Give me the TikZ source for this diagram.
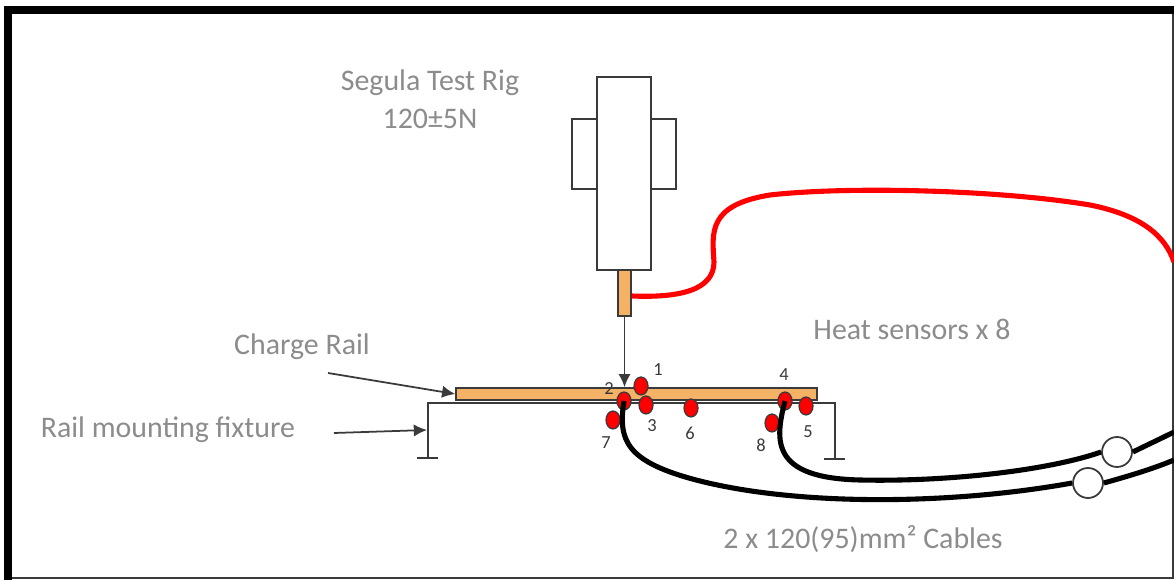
\documentclass[tikz,border=0pt]{standalone}
\usepackage{fontspec}
\setmainfont{Carlito}
\usetikzlibrary{
    arrows.meta,
    calc,
    positioning,
    shapes.geometric
}
\definecolor{railorange}{HTML}{F4B266}
\definecolor{labelgrey}{HTML}{8C8C8C}
\definecolor{linegrey}{HTML}{3A3A3A}
\tikzset{
    rigbox/.style={draw=linegrey, line width=1pt, fill=white, inner sep=0pt},
    orangebar/.style={draw=linegrey, line width=0.9pt, fill=railorange, inner sep=0pt},
    sensor/.style={ellipse, draw=linegrey, line width=0.7pt, fill=red, inner sep=0pt, minimum width=0.28cm, minimum height=0.36cm},
    gland/.style={circle, draw=linegrey, line width=1pt, fill=white, inner sep=0pt, minimum size=0.6cm},
    greylabel/.style={text=labelgrey, font=\fontsize{17}{20}\selectfont, inner sep=0pt},
    numlabel/.style={text=linegrey, font=\fontsize{10.5}{12}\selectfont, inner sep=0pt},
    thinline/.style={draw=linegrey, line width=1pt},
    redcable/.style={draw=red, line width=2.9pt},
    blackcable/.style={draw=black, line width=2.9pt}
}
\begin{document}
\begin{tikzpicture}[x=0.02cm, y=-0.02cm, >={Latex[length=7.5pt, width=7pt]}]
    \useasboundingbox (0, 0) rectangle (1174, 580);
    \fill[white] (0, 0) rectangle (1174, 580);
    \fill[black] (4, 6) rectangle (1174, 14);
    \fill[black] (4, 6) rectangle (12, 580);
    \draw[linegrey, line width=0.8pt] (1173, 14) -- (1173, 578) -- (12, 578);

    \node[greylabel] (riglabel) at (430, 83) {Segula Test Rig};
    \node[greylabel] (loadlabel) at (430, 119) {120±5N};
    \node[greylabel] (raillabel) at (302, 347) {Charge Rail};
    \node[greylabel] (fixturelabel) at (168, 430) {Rail mounting fixture};
    \node[greylabel] (sensorlabel) at (912, 329) {Heat sensors x 8};
    \node[greylabel] (cablelabel) at (863, 539) {2 x 120(95)mm² Cables};

    \node[rigbox, minimum width=0.5cm, minimum height=1.4cm] (leftclamp) at (584.5, 154) {};
    \node[rigbox, minimum width=0.5cm, minimum height=1.4cm] (rightclamp) at (663.5, 154) {};
    \node[rigbox, minimum width=1.08cm, minimum height=3.86cm] (rig) at (624, 173.5) {};
    \node[orangebar, minimum width=0.26cm, minimum height=0.92cm] (plunger) at (624.5, 293) {};

    \coordinate (fixleft) at (428, 403);
    \coordinate (fixright) at (835, 403);
    \coordinate (footleft) at (428, 458);
    \coordinate (footright) at (835, 459);
    \draw[thinline] (footleft) -- (fixleft) -- (fixright) -- (footright);
    \draw[thinline] ($(footleft)+(-11, 0)$) -- ($(footleft)+(10, 0)$);
    \draw[thinline] ($(footright)+(-11, 0)$) -- ($(footright)+(10, 0)$);
    \node[orangebar, minimum width=7.22cm, minimum height=0.24cm] (rail) at (636.5, 394) {};

    \coordinate (railtail) at (328, 373);
    \coordinate (fixturetail) at (334, 433);
    \draw[thinline, ->] (plunger.south) -- (plunger.south |- rail.north);
    \draw[thinline, ->] (railtail) -- (rail.west);
    \draw[thinline, ->] (fixturetail) -- (427, 430);

    \node[sensor] (s1) at (641, 386) {};
    \node[sensor] (s2) at (624, 401) {};
    \node[sensor] (s3) at (646, 405) {};
    \node[sensor] (s4) at (785, 401) {};
    \node[sensor] (s5) at (806, 406) {};
    \node[sensor] (s6) at (691, 408) {};
    \node[sensor] (s7) at (613, 420) {};
    \node[sensor] (s8) at (772, 423) {};

    \node[numlabel] (n1) at (658, 370) {1};
    \node[numlabel] (n2) at (609, 389) {2};
    \node[numlabel] (n3) at (652, 426) {3};
    \node[numlabel] (n4) at (784, 375) {4};
    \node[numlabel] (n5) at (808, 432) {5};
    \node[numlabel] (n6) at (690, 433) {6};
    \node[numlabel] (n7) at (606, 443) {7};
    \node[numlabel] (n8) at (761, 445) {8};

    \node[gland] (glandlow) at (1088, 483) {};
    \node[gland] (glandhigh) at (1117, 452) {};

    \coordinate (redend) at (1174, 262);
    \coordinate (lowend) at (1174, 460);
    \coordinate (highend) at (1174, 432);
    \draw[redcable] (plunger.east |- 0, 296) .. controls (680, 298) and (714, 290) .. (714, 262)
        .. controls (712, 232) and (708, 205) .. (770, 195)
        .. controls (850, 186) and (1000, 190) .. (1090, 205)
        .. controls (1140, 215) and (1165, 235) .. (redend);
    \draw[blackcable] (s2.center) .. controls (618, 440) and (625, 462) .. (700, 481)
        .. controls (800, 506) and (950, 505) .. (glandlow.west);
    \draw[blackcable] (glandlow.east) .. controls (1125, 477) and (1150, 470) .. (lowend);
    \draw[blackcable] (s4.center) .. controls (775, 440) and (770, 478) .. (860, 480)
        .. controls (950, 482) and (1050, 470) .. (glandhigh.west);
    \draw[blackcable] (glandhigh.east) .. controls (1145, 446) and (1160, 439) .. (highend);
\end{tikzpicture}
\end{document}
